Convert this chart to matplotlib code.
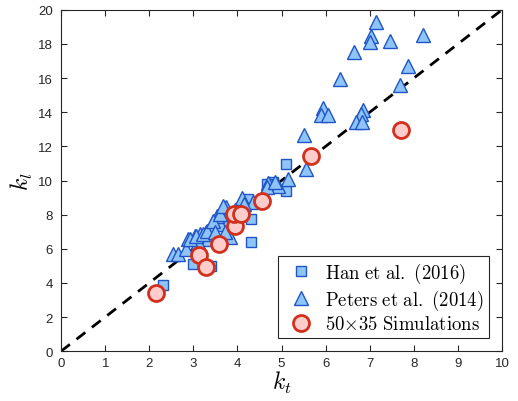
import matplotlib.pyplot as plt
import numpy as np

plt.rcParams['mathtext.fontset'] = 'cm'

# Han et al. (2016)
han_kt = [2.30, 3.00, 3.41, 4.30, 4.30, 5.11, 5.10, 4.81, 4.24, 4.66, 3.20, 3.45, 3.70, 4.00, 3.85]
han_kl = [3.87, 5.10, 5.00, 6.41, 7.74, 10.97, 9.40, 9.93, 8.91, 9.79, 6.50, 6.70, 7.50, 8.20, 7.90]

# Peters et al. (2014)
pet_kt = [7.15, 7.04, 7.00, 7.47, 8.21, 6.64, 6.33, 7.87, 7.69, 5.94, 5.90, 6.05, 6.85, 6.81,
          6.68, 6.82, 5.51, 5.55, 5.15, 4.70, 4.92, 4.66, 4.11, 4.36, 4.85,
          2.53, 2.66, 2.83, 2.88, 3.04, 3.15, 3.28, 3.41, 3.60, 3.53, 3.64, 3.75,
          3.34, 3.84, 3.71, 3.10, 2.92, 3.07, 3.22, 3.30, 3.45, 3.60, 3.68, 3.49, 3.95, 4.15]
pet_kl = [19.28, 18.46, 18.14, 18.16, 18.50, 17.52, 15.95, 16.73, 15.60, 14.23, 13.84, 13.84, 14.15, 13.90,
          13.45, 13.41, 12.67, 10.67, 10.09, 9.85, 9.70, 9.60, 8.95, 8.72, 9.90,
          5.69, 5.69, 5.98, 6.57, 6.76, 6.86, 6.96, 7.35, 7.45, 7.94, 8.33, 8.43,
          6.57, 6.67, 6.96, 6.40, 6.57, 6.76, 6.86, 7.05, 7.64, 8.03, 8.52, 6.96, 8.30, 8.60]

# 50x35 Simulations
sim_kt = [2.15, 3.13, 3.28, 3.59, 3.94, 3.92, 4.08, 4.56, 5.66, 7.72]
sim_kl = [3.40, 5.63, 4.91, 6.28, 7.35, 8.02, 8.04, 8.82, 11.42, 12.94]

fig = plt.figure(figsize=(5.18, 4.02), dpi=100)
ax = fig.add_axes([0.118, 0.124, 0.851, 0.849])

ax.plot([0, 10], [0, 20], color='black', linestyle=(0, (4, 3)), linewidth=2, zorder=1)

fill_blue = '#8EC4F7'
edge_blue = '#1F55C6'
ax.plot(han_kt, han_kl, 's', markersize=7, markerfacecolor=fill_blue,
        markeredgecolor=edge_blue, markeredgewidth=1.0,
        label=r'$\mathrm{Han\ et\ al.\ (2016)}$', zorder=2)
ax.plot(pet_kt, pet_kl, '^', markersize=10, markerfacecolor=fill_blue,
        markeredgecolor=edge_blue, markeredgewidth=1.0,
        label=r'$\mathrm{Peters\ et\ al.\ (2014)}$', zorder=3)
ax.plot(sim_kt, sim_kl, 'o', markersize=11.5, markerfacecolor='#FFCCCC',
        markeredgecolor='#D2301C', markeredgewidth=2.0,
        label=r'$\mathrm{50{\times}35\ Simulations}$', zorder=4)

ax.set_xlim(0, 10)
ax.set_ylim(0, 20)
ax.set_xticks(np.arange(0, 11, 1))
ax.set_yticks(np.arange(0, 21, 2))
ax.tick_params(direction='in', top=True, right=True, length=4, width=0.8,
               colors='#262626', labelsize=9.5)
ax.tick_params(axis='x', pad=4)
ax.tick_params(axis='y', pad=6)
for lab in ax.get_xticklabels() + ax.get_yticklabels():
    lab.set_family('Liberation Sans')
for s in ax.spines.values():
    s.set_color('#262626')
    s.set_linewidth(0.8)

ax.set_xlabel(r'$k_t$', fontsize=17, labelpad=0)
ax.set_ylabel(r'$k_l$', fontsize=17, labelpad=2)

leg = ax.legend(loc='lower right', fontsize=13.5, frameon=True, fancybox=False,
                edgecolor='#262626', framealpha=1, borderaxespad=0.7,
                handletextpad=0.3, labelspacing=0.15, borderpad=0.25)
leg.get_frame().set_linewidth(0.8)

fig.savefig('out.png', dpi=100)
